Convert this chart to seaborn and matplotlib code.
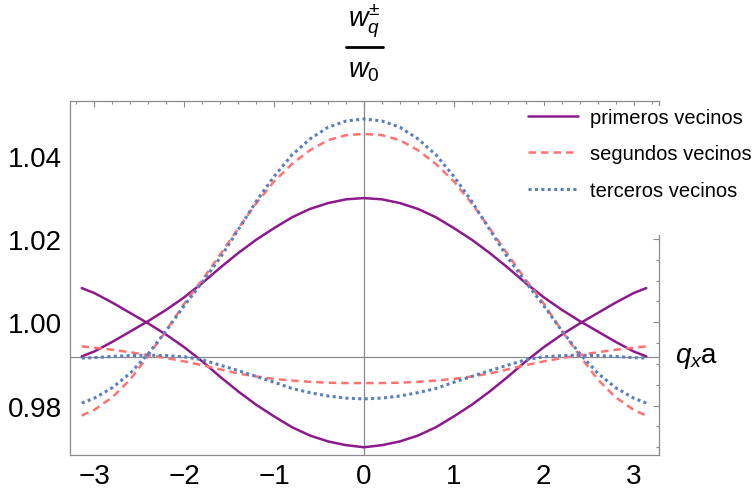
import numpy as np
import pandas as pd
import matplotlib
matplotlib.use('Agg')
import matplotlib.pyplot as plt
from matplotlib.lines import Line2D
from matplotlib.patches import Rectangle
from matplotlib.ticker import MultipleLocator, FormatStrFormatter
import seaborn as sns

# q_x a values (-pi .. pi)
qa = [-3.1416, -3.0, -2.8, -2.6, -2.4, -2.2, -2.0, -1.8, -1.6, -1.4, -1.2, -1.0, -0.8, -0.6, -0.4, -0.2,
      0.0, 0.2, 0.4, 0.6, 0.8, 1.0, 1.2, 1.4, 1.6, 1.8, 2.0, 2.2, 2.4, 2.6, 2.8, 3.0, 3.1416]

# primeros vecinos, w+ and w-
prim_mas = [0.9918, 0.9930, 0.9953, 0.9978, 1.0003, 1.0030, 1.0060, 1.0094, 1.0131, 1.0166, 1.0198, 1.0226,
            1.0252, 1.0272, 1.0286, 1.0295, 1.0298, 1.0295, 1.0286, 1.0272, 1.0252, 1.0226, 1.0198, 1.0166,
            1.0131, 1.0094, 1.0060, 1.0030, 1.0003, 0.9978, 0.9953, 0.9930, 0.9918]
prim_menos = [1.0082, 1.0070, 1.0047, 1.0022, 0.9997, 0.9970, 0.9940, 0.9906, 0.9869, 0.9834, 0.9802, 0.9774,
              0.9748, 0.9728, 0.9714, 0.9705, 0.9700, 0.9705, 0.9714, 0.9728, 0.9748, 0.9774, 0.9802, 0.9834,
              0.9869, 0.9906, 0.9940, 0.9970, 0.9997, 1.0022, 1.0047, 1.0070, 1.0082]

# segundos vecinos
seg_mas = [0.9776, 0.9790, 0.9820, 0.9863, 0.9920, 0.9980, 1.0045, 1.0102, 1.0163, 1.0225, 1.0285, 1.0338,
           1.0380, 1.0413, 1.0437, 1.0449, 1.0452, 1.0449, 1.0437, 1.0413, 1.0380, 1.0338, 1.0285, 1.0225,
           1.0163, 1.0102, 1.0045, 0.9980, 0.9920, 0.9863, 0.9820, 0.9790, 0.9776]
seg_menos = [0.9942, 0.9939, 0.9934, 0.9928, 0.9921, 0.9914, 0.9906, 0.9897, 0.9887, 0.9877, 0.9870, 0.9864,
             0.9860, 0.9857, 0.9855, 0.9854, 0.9854, 0.9854, 0.9855, 0.9857, 0.9860, 0.9864, 0.9870, 0.9877,
             0.9887, 0.9897, 0.9906, 0.9914, 0.9921, 0.9928, 0.9934, 0.9939, 0.9942]

# terceros vecinos
ter_mas = [0.9806, 0.9818, 0.9843, 0.9878, 0.9925, 0.9980, 1.0040, 1.0096, 1.0155, 1.0222, 1.0290, 1.0350,
           1.0402, 1.0440, 1.0468, 1.0483, 1.0488, 1.0483, 1.0468, 1.0440, 1.0402, 1.0350, 1.0290, 1.0222,
           1.0155, 1.0096, 1.0040, 0.9980, 0.9925, 0.9878, 0.9843, 0.9818, 0.9806]
ter_menos = [0.9914, 0.9915, 0.9918, 0.9920, 0.9921, 0.9920, 0.9917, 0.9910, 0.9897, 0.9884, 0.9870, 0.9856,
             0.9841, 0.9831, 0.9823, 0.9818, 0.9816, 0.9818, 0.9823, 0.9831, 0.9841, 0.9856, 0.9870, 0.9884,
             0.9897, 0.9910, 0.9917, 0.9920, 0.9921, 0.9920, 0.9918, 0.9915, 0.9914]

etiquetas = ['primeros vecinos', 'segundos vecinos', 'terceros vecinos']
eje_y0 = 0.9917   # where Mathematica put the horizontal axis

sns.set_theme(style='white')
plt.rcParams['font.family'] = ['Liberation Sans', 'DejaVu Sans']
plt.rcParams['mathtext.fontset'] = 'custom'
plt.rcParams['mathtext.rm'] = 'Liberation Sans'
plt.rcParams['mathtext.it'] = 'Liberation Sans:italic'

filas = []
for nombre, rama, vals in [(etiquetas[0], 'p+', prim_mas), (etiquetas[0], 'p-', prim_menos),
                           (etiquetas[1], 's+', seg_mas), (etiquetas[1], 's-', seg_menos),
                           (etiquetas[2], 't+', ter_mas), (etiquetas[2], 't-', ter_menos)]:
    for x, y in zip(qa, vals):
        filas.append({'qa': x, 'w': y, 'vecinos': nombre, 'rama': rama})
df = pd.DataFrame(filas)

colores = {etiquetas[0]: '#8c1a8c', etiquetas[1]: '#ff7373', etiquetas[2]: '#5a7fbf'}
trazos = {etiquetas[0]: '', etiquetas[1]: (3, 2), etiquetas[2]: (1, 1.1)}
anchos = {etiquetas[0]: 1.8, etiquetas[1]: 1.8, etiquetas[2]: 2.2}

fig = plt.figure(figsize=(7.52, 5.02), dpi=100)
ax = fig.add_axes([70 / 752, 1 - 456 / 502, 589 / 752, 354 / 502])

# Mathematica-like axes through the plot
ax.axhline(eje_y0, color='#8a8a8a', lw=0.9, zorder=1)
ax.axvline(0, color='#8a8a8a', lw=0.9, zorder=1)

for nombre in etiquetas:
    sub = df[df['vecinos'] == nombre]
    sns.lineplot(data=sub, x='qa', y='w', units='rama', estimator=None, color=colores[nombre],
                 dashes=False, lw=anchos[nombre], ax=ax, legend=False, zorder=3)
    for ln in ax.get_lines()[-2:]:
        if trazos[nombre]:
            ln.set_dashes(trazos[nombre])

ax.set_xlim(-3.272, 3.283)
ax.set_ylim(0.96814, 1.0531)
ax.set_xlabel('')
ax.set_ylabel('')

ax.xaxis.set_major_locator(MultipleLocator(1))
ax.xaxis.set_minor_locator(MultipleLocator(0.2))
ax.yaxis.set_major_locator(MultipleLocator(0.02))
ax.yaxis.set_minor_locator(MultipleLocator(0.005))
ax.yaxis.set_major_formatter(FormatStrFormatter('%.2f'))
ax.tick_params(which='both', direction='in', top=True, right=True, color='#8a8a8a',
               labelsize=20, labelcolor='black', width=0.8)
ax.tick_params(which='major', length=4.2, pad=6)
ax.tick_params(which='minor', length=2.4)
for sp in ax.spines.values():
    sp.set_color('#8a8a8a')
    sp.set_linewidth(0.9)

# vertical axis label: w_q^± over w_0, stacked above the frame
fig.text(364 / 752, 1 - 26 / 502, r'$w_q^{\pm}$', ha='center', va='baseline', fontsize=19.5, color='black')
fig.text(364 / 752, 1 - 77 / 502, r'$w_0$', ha='center', va='baseline', fontsize=19.5, color='black')
fig.add_artist(Line2D([346 / 752, 383 / 752], [1 - 47.5 / 502, 1 - 47.5 / 502],
                      transform=fig.transFigure, color='black', lw=2.0))

ax.text(1.027, eje_y0, r'$q_x\mathrm{a}$', transform=ax.get_yaxis_transform(),
        ha='left', va='center', fontsize=20, color='black')

# white block behind the legend hides the top of the right frame, as in the original
ax.add_patch(Rectangle((520 / 752, 1 - 236 / 502), 232 / 752, 129 / 502, transform=fig.transFigure,
                       facecolor='white', edgecolor='none', clip_on=False, zorder=4))

manijas = [Line2D([], [], color=colores[etiquetas[0]], lw=anchos[etiquetas[0]]),
           Line2D([], [], color=colores[etiquetas[1]], lw=anchos[etiquetas[1]], dashes=trazos[etiquetas[1]]),
           Line2D([], [], color=colores[etiquetas[2]], lw=anchos[etiquetas[2]], dashes=trazos[etiquetas[2]])]
leg = ax.legend(manijas, etiquetas, loc='upper left', bbox_to_anchor=(526 / 752, 1 - 107 / 502),
                bbox_transform=fig.transFigure, fontsize=14.5, frameon=False,
                handlelength=2.5, handletextpad=0.6, labelspacing=0.86, borderpad=0.1, borderaxespad=0)
leg.set_zorder(10)
for t in leg.get_texts():
    t.set_color('black')

fig.savefig('out.png', dpi=100)
